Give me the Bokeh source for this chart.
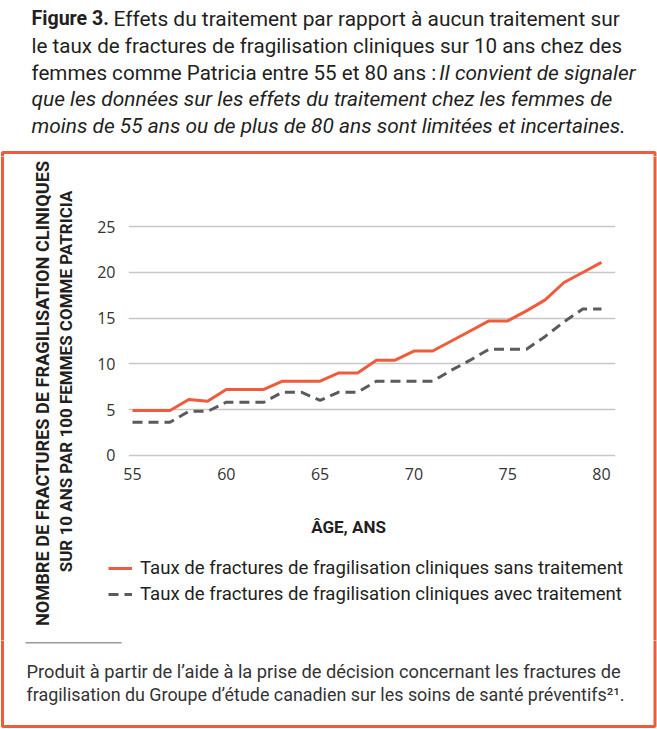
import math
from bokeh.plotting import figure
from bokeh.layouts import column, row
from bokeh.models import Range1d, FixedTicker, Label, BoxAnnotation, Legend, LegendItem
from bokeh.embed import file_html
from bokeh.resources import INLINE

# ---------------- data ----------------
ages = [55, 56, 57, 58, 59, 60, 61, 62, 63, 64, 65, 66, 67, 68, 69, 70,
        71, 72, 73, 74, 75, 76, 77, 78, 79, 80]
sans_traitement = [4.9, 4.9, 4.9, 6.1, 5.9, 7.2, 7.2, 7.2, 8.1, 8.1, 8.1, 9.0, 9.0,
                   10.4, 10.4, 11.4, 11.4, 12.5, 13.6, 14.7, 14.7, 15.8, 17.0,
                   18.9, 20.0, 21.1]
avec_traitement = [3.6, 3.6, 3.6, 4.8, 4.8, 5.8, 5.8, 5.8, 6.9, 6.9, 6.0, 6.9, 6.9,
                   8.1, 8.1, 8.1, 8.1, 9.3, 10.4, 11.6, 11.6, 11.6, 13.0,
                   14.6, 16.0, 16.0]
x_ticks = [55, 60, 65, 70, 75, 80]
y_ticks = [0, 5, 10, 15, 20, 25]
legend_labels = ["Taux de fractures de fragilisation cliniques sans traitement",
                 "Taux de fractures de fragilisation cliniques avec traitement"]

RED = "#EF5B3B"
GREY = "#5B5B5B"
TXT = "#231F20"
DASH = "10 6"

PW, PH = 657, 729          # page
HEAD_H = 156               # header strip height
CHART_H = 344              # chart figure height
MIDB_H = 140               # strip under chart (x title + legend)
LEFT_W, RIGHT_W = 85, 30   # side strips
CHART_W = PW - LEFT_W - RIGHT_W
MID_H = CHART_H + MIDB_H
FOOT_H = PH - HEAD_H - MID_H

# box edges (page px)
BX_L, BX_R, BX_T, BX_B = 2, 654.5, 152, 726


def blank(w, h, x0, x1, y0, y1):
    """A figure whose frame is the whole canvas, mapped to page pixels."""
    f = figure(width=w, height=h, output_backend="svg", toolbar_location=None,
               x_range=Range1d(x0, x1), y_range=Range1d(y1, y0),
               x_axis_type=None, y_axis_type=None, min_border=0)
    f.outline_line_color = None
    f.background_fill_color = "white"
    f.border_fill_color = "white"
    return f


def L(f, text, X, Y, size, style="normal", font="Roboto", align="left",
      color=TXT, angle=0.0, baseline="alphabetic"):
    f.add_layout(Label(x=X, y=Y, text=text, text_font=font,
                       text_font_size=f"{size}px", text_font_style=style,
                       text_color=color, text_align=align,
                       text_baseline=baseline, angle=angle))


def box(f):
    f.add_layout(BoxAnnotation(left=BX_L, right=BX_R, top=BX_T, bottom=BX_B,
                               fill_alpha=0, line_color=RED, line_alpha=1,
                               line_width=3))


# ---------------- header (title) ----------------
head = blank(PW, HEAD_H, 0, PW, 0, HEAD_H)
TS, TI = 20.6, 20.9
L(head, "Figure 3.", 31, 18, 19.6, "bold")
L(head, "Effets du traitement par rapport à aucun traitement sur", 113, 18, 20.9)
L(head, "le taux de fractures de fragilisation cliniques sur 10 ans chez des", 31, 45, TS)
L(head, "femmes comme Patricia entre 55 et 80 ans :", 31, 72, TS)
L(head, "Il convient de signaler", 635, 72, TI, "italic", align="right")
L(head, "que les données sur les effets du traitement chez les femmes de", 31, 98.5, TI, "italic")
L(head, "moins de 55 ans ou de plus de 80 ans sont limitées et incertaines.", 31, 125, TI, "italic")
box(head)

# ---------------- left strip (y-axis title) ----------------
left = blank(LEFT_W, MID_H, 0, LEFT_W, HEAD_H, HEAD_H + MID_H)
L(left, "NOMBRE DE FRACTURES DE FRAGILISATION CLINIQUES", 41.5, 393, 18.2, "bold",
  align="center", baseline="middle", angle=math.pi / 2)
L(left, "SUR 10 ANS PAR 100 FEMMES COMME PATRICIA", 65.5, 381, 17, "bold",
  align="center", baseline="middle", angle=math.pi / 2)
box(left)

# ---------------- right strip ----------------
right = blank(RIGHT_W, MID_H, PW - RIGHT_W, PW, HEAD_H, HEAD_H + MID_H)
box(right)

# ---------------- chart ----------------
p = figure(width=CHART_W, height=CHART_H, output_backend="svg", toolbar_location=None,
           x_range=Range1d(54.787, 80.747), y_range=Range1d(-0.25, 25.25),
           min_border_left=43, min_border_right=12, min_border_top=68,
           min_border_bottom=43)
p.outline_line_color = None
p.background_fill_color = "white"
p.border_fill_color = "white"

p.line(ages, sans_traitement, line_color=RED, line_width=3)
p.line(ages, avec_traitement, line_color=GREY, line_width=3, line_dash=DASH)

p.xgrid.visible = False
p.ygrid.grid_line_color = "#C8C8C8"
p.ygrid.grid_line_width = 1.5
p.ygrid.ticker = FixedTicker(ticks=y_ticks)

for ax, ticks, standoff in ((p.xaxis[0], x_ticks, 10), (p.yaxis[0], y_ticks, 13)):
    ax.ticker = FixedTicker(ticks=ticks)
    ax.axis_line_color = None
    ax.major_tick_line_color = None
    ax.minor_tick_line_color = None
    ax.major_tick_in = 0
    ax.major_tick_out = 0
    ax.minor_tick_out = 0
    ax.major_label_standoff = standoff
    ax.major_label_text_font = "Open Sans"
    ax.major_label_text_font_size = "16px"
    ax.major_label_text_color = "#333333"

# ---------------- strip under chart (x title, legend) ----------------
midb = blank(CHART_W, MIDB_H, LEFT_W, LEFT_W + CHART_W, HEAD_H + CHART_H, HEAD_H + MID_H)
L(midb, "ÂGE, ANS", 348, 526, 17, "bold", align="center")

# legend swatches: same series, drawn here only for their legend glyphs
g1 = midb.line(ages, sans_traitement, line_color=RED, line_width=3)
g2 = midb.line(ages, avec_traitement, line_color=GREY, line_width=3, line_dash=DASH)
legend = Legend(items=[LegendItem(label=legend_labels[0], renderers=[g1]),
                       LegendItem(label=legend_labels[1], renderers=[g2])],
                location=(108 - LEFT_W, MIDB_H - (605 - HEAD_H - CHART_H)),
                orientation="vertical",
                glyph_width=24, glyph_height=20, label_height=20, label_standoff=8,
                spacing=4, padding=0, margin=0, border_line_color=None,
                background_fill_alpha=0, label_text_font="Roboto",
                label_text_font_size="18.6px", label_text_color=TXT)
midb.add_layout(legend, "center")

# ---------------- footnote ----------------
foot = blank(PW, FOOT_H, 0, PW, HEAD_H + MID_H, PH)
foot.add_layout(BoxAnnotation(left=25, right=121, top=641.5, bottom=643,
                              fill_color="#9A9A9A", fill_alpha=1, line_color=None))
L(foot, "Produit à partir de l’aide à la prise de décision concernant les fractures de",
  26, 671, 18.3, color="#333333")
L(foot, "fragilisation du Groupe d’étude canadien sur les soins de santé préventifs²¹.",
  26, 694, 17.9, color="#333333")
box(foot)

# wrapping midb in its own row keeps its frame independent of the chart's frame
mid = column(p, row(midb, spacing=0), spacing=0)
layout = column(head, row(left, mid, right, spacing=0), foot, spacing=0)
open("out.html", "w").write(file_html(layout, INLINE))
